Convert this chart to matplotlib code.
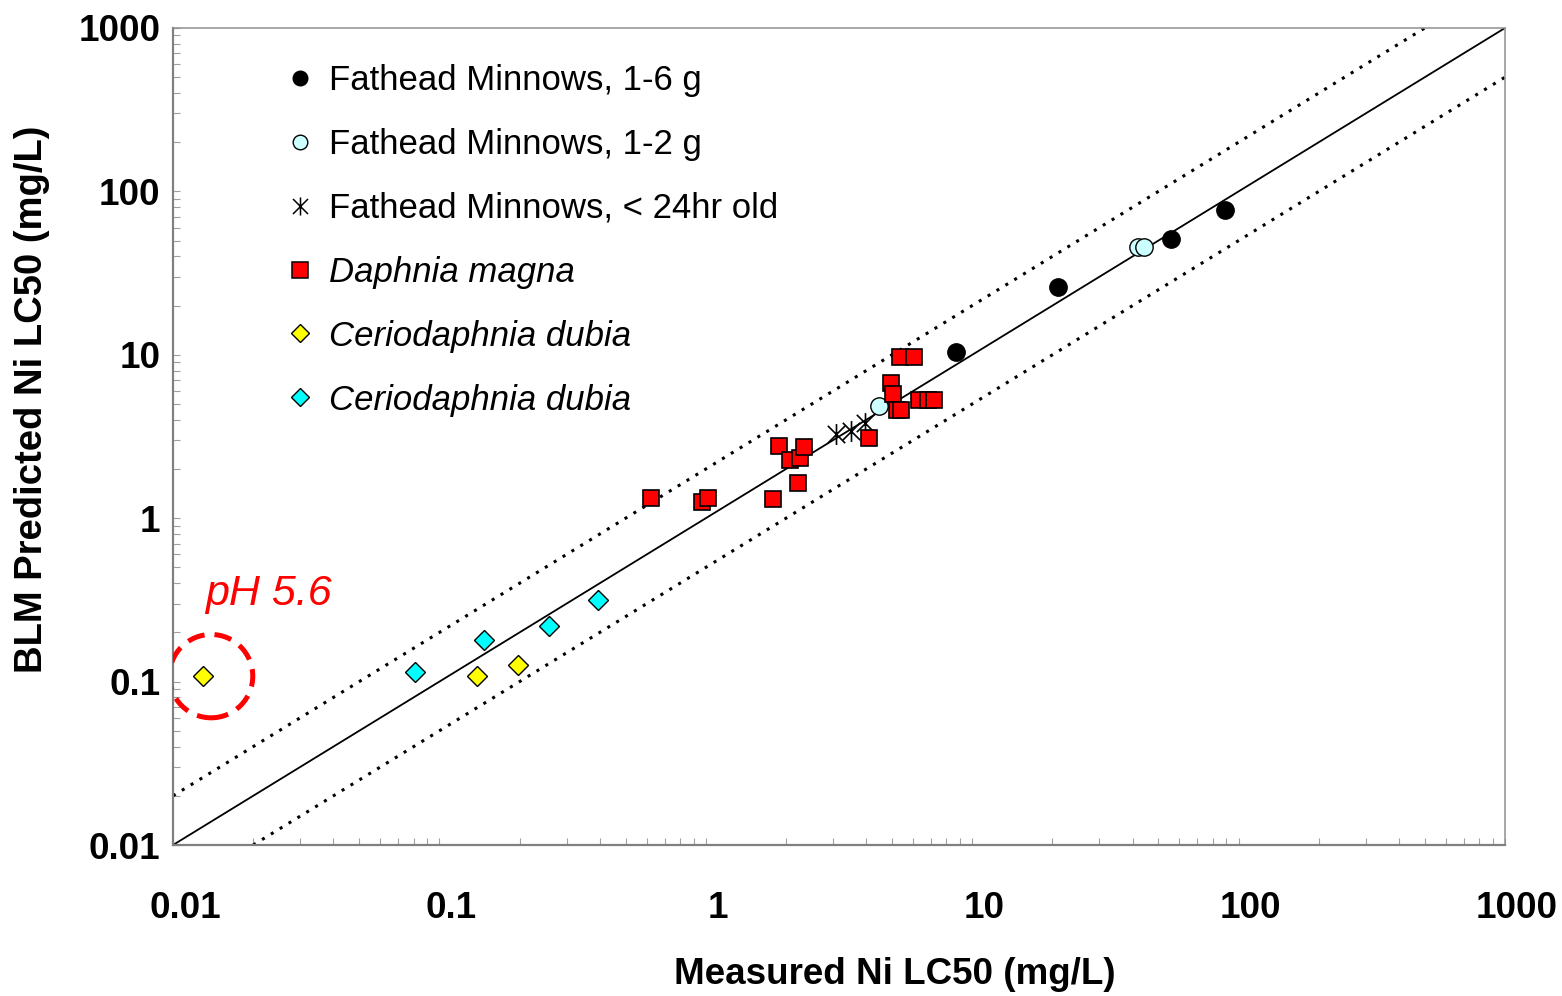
import matplotlib
matplotlib.use("Agg")
import matplotlib.pyplot as plt
import matplotlib.transforms as mtransforms
from matplotlib.path import Path
from matplotlib.lines import Line2D
from matplotlib.ticker import LogLocator, NullFormatter

plt.rcParams['font.family'] = ['Liberation Sans', 'DejaVu Sans']

# --- data (measured, predicted) in mg/L ---
fm16_x = [8.7, 21.0, 55.7, 88.9]
fm16_y = [10.4, 26.0, 51.2, 76.9]

fm12_x = [4.47, 41.9, 44.2]
fm12_y = [4.86, 45.7, 45.7]

fm24_x = [3.08, 3.51, 3.96]
fm24_y = [3.28, 3.42, 3.83]

dm_x = [0.622, 0.968, 1.02, 1.79, 1.88, 2.07, 2.26, 2.22, 2.34, 4.10,
        5.36, 6.05, 4.96, 5.04, 5.22, 5.41, 6.31, 6.82, 7.19]
dm_y = [1.33, 1.26, 1.33, 1.31, 2.77, 2.27, 2.34, 1.64, 2.73, 3.10,
        9.70, 9.70, 6.72, 5.76, 4.59, 4.59, 5.29, 5.29, 5.29]

cd_yel_x = [0.0130, 0.138, 0.197]
cd_yel_y = [0.108, 0.108, 0.126]

cd_cyan_x = [0.0809, 0.147, 0.258, 0.393]
cd_cyan_y = [0.115, 0.180, 0.219, 0.315]

labels = ["Fathead Minnows, 1-6 g", "Fathead Minnows, 1-2 g",
          "Fathead Minnows, < 24hr old", "Daphnia magna",
          "Ceriodaphnia dubia", "Ceriodaphnia dubia"]

ticks = [0.01, 0.1, 1, 10, 100, 1000]
tick_labels = ["0.01", "0.1", "1", "10", "100", "1000"]

line_x = [0.01, 1000]
upper_x = [0.01, 500]
lower_x = [0.02, 1000]

# asterisk marker: x with a vertical bar
star = Path([(-0.5, -0.5), (0.5, 0.5), (-0.5, 0.5), (0.5, -0.5), (0, -0.6), (0, 0.6)],
            [Path.MOVETO, Path.LINETO, Path.MOVETO, Path.LINETO, Path.MOVETO, Path.LINETO])

fig = plt.figure(figsize=(15.62, 9.96), dpi=100)
ax = fig.add_axes([173 / 1562, 151 / 996, 1332 / 1562, 817 / 996])
ax.set_xscale('log')
ax.set_yscale('log')
ax.set_xlim(0.01, 1000)
ax.set_ylim(0.01, 1000)

# 1:1 line and factor-of-two lines
ax.plot(line_x, line_x, color='black', lw=1.3, zorder=2)
ax.plot(upper_x, [v * 2 for v in upper_x], color='black', lw=2.2,
        linestyle=(0, (1, 2.4)), zorder=2)
ax.plot(lower_x, [v / 2 for v in lower_x], color='black', lw=2.2,
        linestyle=(0, (1, 2.4)), zorder=2)

ax.plot(fm16_x, fm16_y, 'o', ms=12.5, mfc='black', mec='black', ls='none', zorder=3)
ax.plot(fm12_x, fm12_y, 'o', ms=12.5, mfc='#CCFFFF', mec='black', mew=1, ls='none', zorder=3)
ax.plot(fm24_x, fm24_y, marker=star, ms=15, mec='black', mew=1.2, ls='none', zorder=3)
ax.plot(dm_x, dm_y, 's', ms=12, mfc='#FF0000', mec='black', mew=1.2, ls='none', zorder=4)
ax.plot(cd_yel_x, cd_yel_y, 'D', ms=10, mfc='#FFFF00', mec='black', mew=1, ls='none', zorder=3)
ax.plot(cd_cyan_x, cd_cyan_y, 'D', ms=10, mfc='#00FFFF', mec='black', mew=1, ls='none', zorder=3)

# dashed circle round the pH 5.6 point
ax.scatter([0.0139], [cd_yel_y[0]], s=3600, facecolors='none', edgecolors='#FF0000',
           linewidths=3.6, linestyles=(0, (3.5, 2)), zorder=3)
ax.text(0.0132, 0.345, "pH 5.6", color='#FF0000', fontsize=31, style='italic',
        ha='left', va='center')

# axes styling
for side in ['left', 'bottom']:
    ax.spines[side].set_color('#808080')
    ax.spines[side].set_linewidth(1.6)
for side in ['top', 'right']:
    ax.spines[side].set_color('#909090')
    ax.spines[side].set_linewidth(1.1)

ax.set_xticks(ticks)
ax.set_xticklabels(tick_labels)
ax.set_yticks(ticks)
ax.set_yticklabels(tick_labels)
ax.xaxis.set_minor_locator(LogLocator(base=10, subs=range(2, 10)))
ax.yaxis.set_minor_locator(LogLocator(base=10, subs=range(2, 10)))
ax.xaxis.set_minor_formatter(NullFormatter())
ax.yaxis.set_minor_formatter(NullFormatter())
ax.tick_params(which='both', direction='in', color='#a0a0a0', width=0.8, length=5)
ax.tick_params(axis='x', which='major', pad=33, labelsize=26.5)
ax.tick_params(axis='y', which='major', pad=9, labelsize=26.5)
for lab in ax.get_xticklabels() + ax.get_yticklabels():
    lab.set_fontweight('bold')
shift = mtransforms.ScaledTranslation(12 / 100, 0, fig.dpi_scale_trans)
for lab in ax.get_xticklabels():
    lab.set_transform(lab.get_transform() + shift)

ax.set_xlabel("Measured Ni LC50 (mg/L)", fontsize=26.5, fontweight='bold')
ax.set_ylabel("BLM Predicted Ni LC50 (mg/L)", fontsize=27.5, fontweight='bold')
ax.xaxis.set_label_coords(0.542, -0.137)
ax.yaxis.set_label_coords(-0.092, 0.546)

# legend
handles = [
    Line2D([], [], marker='o', ms=10.5, mfc='black', mec='black', ls='none'),
    Line2D([], [], marker='o', ms=10.5, mfc='#CCFFFF', mec='black', mew=1, ls='none'),
    Line2D([], [], marker=star, ms=13, mec='black', mew=1.1, ls='none'),
    Line2D([], [], marker='s', ms=11, mfc='#FF0000', mec='black', mew=1.1, ls='none'),
    Line2D([], [], marker='D', ms=9.5, mfc='#FFFF00', mec='black', mew=1, ls='none'),
    Line2D([], [], marker='D', ms=9.5, mfc='#00FFFF', mec='black', mew=1, ls='none'),
]
leg = ax.legend(handles, labels, loc='upper left', bbox_to_anchor=(287 / 1562, 1 - 64 / 996),
                bbox_transform=fig.transFigure, frameon=False, fontsize=25,
                handlelength=0.75, handletextpad=0.45, labelspacing=0.89, borderpad=0,
                borderaxespad=0)
for t in leg.get_texts()[3:]:
    t.set_style('italic')

fig.savefig("out.png", dpi=100)
